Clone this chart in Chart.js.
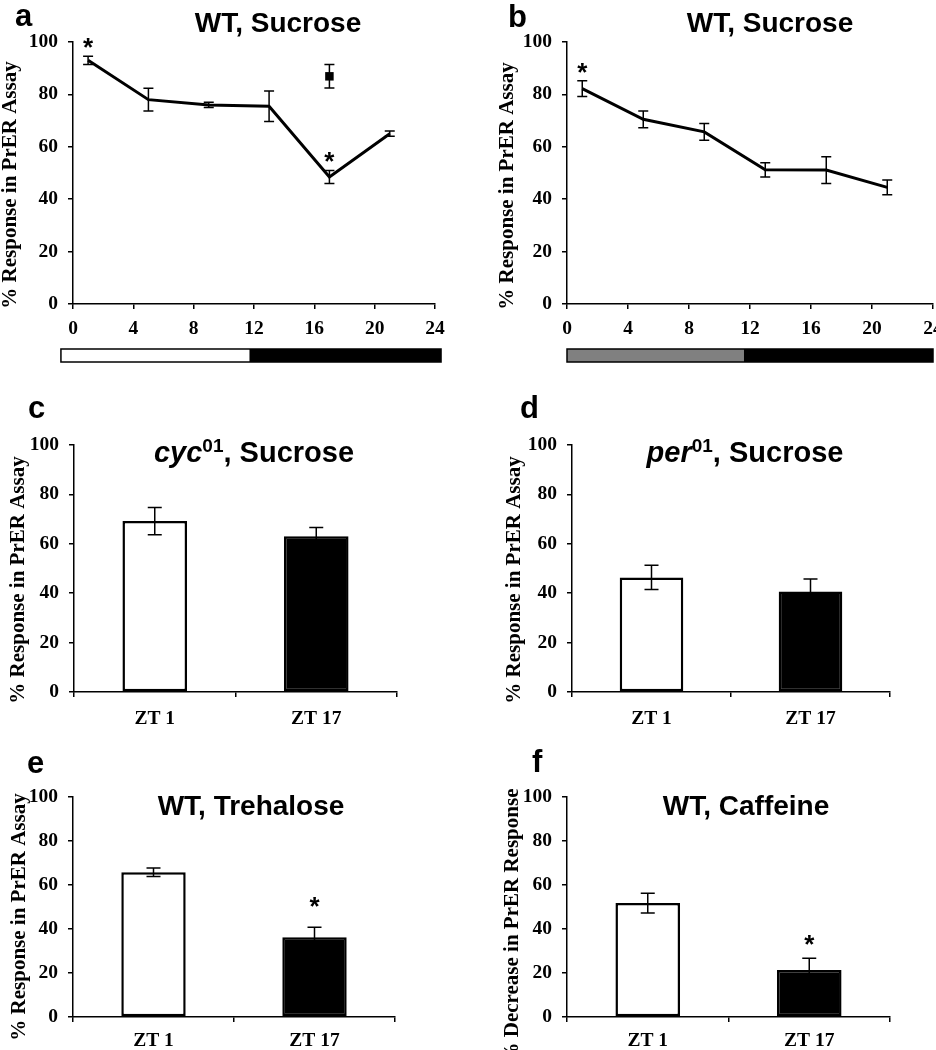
<!DOCTYPE html>
<html><head><meta charset="utf-8">
<script src="https://cdn.jsdelivr.net/npm/chart.js@4.4.1/dist/chart.umd.min.js"></script>
<style>
html,body{margin:0;padding:0;background:#fff;overflow:hidden;}
#wrap{position:relative;width:936px;height:1050px;background:#fff;}
canvas{position:absolute;display:block;}
</style></head><body><div id="wrap">
<canvas id="ca" width="468" height="370" style="left:0;top:0"></canvas>
<canvas id="cb" width="468" height="370" style="left:468px;top:0"></canvas>
<canvas id="cc" width="468" height="355" style="left:0;top:370px"></canvas>
<canvas id="cd" width="468" height="355" style="left:468px;top:370px"></canvas>
<canvas id="ce" width="468" height="325" style="left:0;top:725px"></canvas>
<canvas id="cf" width="468" height="325" style="left:468px;top:725px"></canvas>
</div>
<script>
// ---------- DATA ----------
const hoursA = [1, 5, 9, 13, 17, 21];
const wtSucroseA = [93, 78, 76, 75.5, 48.5, 65];
const wtSucroseAErr = [1.6, 4.3, 1, 5.8, 2.5, 1];
const wtSucroseASig = [true, false, false, false, true, false];
const pulseHourA = [17];
const pulseA = [86.9];
const pulseAErr = [4.5];

const hoursB = [1, 5, 9, 13, 17, 21];
const wtSucroseB = [82.2, 70.5, 65.7, 51.2, 51.1, 44.5];
const wtSucroseBErr = [3, 3.2, 3.2, 2.7, 5.1, 2.8];
const wtSucroseBSig = [true, false, false, false, false, false];

const phaseBoundsA = [-0.8, 11.7, 24.4];
const phaseColorsA = ['#ffffff', '#000000'];
const phaseBoundsB = [0, 11.6, 24];
const phaseColorsB = ['#808080', '#000000'];

const ztLabels = ['ZT 1', 'ZT 17'];
const cycSucrose = [69.2, 63.1];
const cycSucroseErr = [5.5, 3.5];
const perSucrose = [46.4, 40.7];
const perSucroseErr = [4.9, 5.0];
const wtTrehalose = [65.8, 36.2];
const wtTrehaloseErr = [1.9, 4.6];
const wtTrehaloseSig = [false, true];
const wtCaffeine = [51.8, 21.4];
const wtCaffeineErr = [4.5, 5.3];
const wtCaffeineSig = [false, true];

const barFills = ['#ffffff', '#000000'];

// ---------- STYLE ----------
const SERIF = '"Liberation Serif","Times New Roman",serif';
const SANS = '"Liberation Sans",Arial,Helvetica,sans-serif';
Chart.defaults.color = '#000';

const decor = {
  id: 'decor',
  afterDatasetsDraw(chart, args, o) {
    const ctx = chart.ctx, ys = chart.scales.y;
    ctx.save();
    chart.data.datasets.forEach((ds, di) => {
      if (!ds.errors) return;
      const meta = chart.getDatasetMeta(di);
      ds.data.forEach((d, i) => {
        const v = typeof d === 'object' ? d.y : d;
        const e = ds.errors[i];
        const x = meta.data[i].x;
        const yt = ys.getPixelForValue(v + e), yb = ys.getPixelForValue(v - e);
        ctx.strokeStyle = '#000'; ctx.lineWidth = 1.5;
        ctx.beginPath();
        ctx.moveTo(x, yt); ctx.lineTo(x, yb);
        ctx.moveTo(x - o.cap / 2, yt); ctx.lineTo(x + o.cap / 2, yt);
        ctx.moveTo(x - o.cap / 2, yb); ctx.lineTo(x + o.cap / 2, yb);
        ctx.stroke();
        if (ds.sig && ds.sig[i]) {
          ctx.fillStyle = '#000';
          ctx.font = 'bold 26px ' + SANS;
          ctx.textAlign = 'center'; ctx.textBaseline = 'alphabetic';
          ctx.fillText('*', x, yt - o.starOff + 0.57 * 26);
        }
      });
    });
    ctx.restore();
  },
  afterDraw(chart, args, o) {
    const ctx = chart.ctx;
    ctx.save();
    ctx.fillStyle = '#000';
    ctx.font = 'bold 31px ' + SANS;
    ctx.textAlign = 'left'; ctx.textBaseline = 'alphabetic';
    ctx.fillText(o.letter.t, o.letter.x - o.ox, o.letter.y - o.oy);
    let tw = 0;
    o.title.seg.forEach(s => { ctx.font = s.f; tw += ctx.measureText(s.t).width; });
    let x = o.title.cx - o.ox - tw / 2;
    o.title.seg.forEach(s => {
      ctx.font = s.f;
      ctx.fillText(s.t, x, o.title.y - o.oy + (s.dy || 0));
      x += ctx.measureText(s.t).width;
    });
    ctx.save();
    ctx.translate(o.ylabel.x - o.ox, o.ylabel.cy - o.oy);
    ctx.rotate(-Math.PI / 2);
    ctx.font = 'bold 21px ' + SERIF;
    ctx.textAlign = 'center'; ctx.textBaseline = 'alphabetic';
    ctx.fillText(o.ylabel.t, 0, 0);
    ctx.restore();
    if (o.phases) {
      const xs = chart.scales.x, p = o.phases;
      const y0 = p.y - o.oy;
      for (let i = 0; i < p.bounds.length - 1; i++) {
        const x0 = xs.getPixelForValue(p.bounds[i]), x1 = xs.getPixelForValue(p.bounds[i + 1]);
        ctx.fillStyle = p.colors[i];
        ctx.fillRect(x0, y0, x1 - x0, p.h);
      }
      const xa = xs.getPixelForValue(p.bounds[0]), xb = xs.getPixelForValue(p.bounds[p.bounds.length - 1]);
      ctx.strokeStyle = '#000'; ctx.lineWidth = 1.5;
      ctx.strokeRect(xa, y0, xb - xa, p.h);
    }
    ctx.restore();
  }
};

function yAxis(w) {
  return {
    type: 'linear', min: 0, max: 100,
    ticks: { stepSize: 20, color: '#000', padding: 10, font: { family: SERIF, weight: 'bold', size: 19.5 } },
    grid: { drawOnChartArea: false, color: '#000', tickLength: 5, lineWidth: 1.5 },
    border: { color: '#000', width: 1.5 },
    afterFit(s) { s.width = w; s.paddingTop = 0; s.paddingBottom = 0; s.paddingLeft = 0; s.paddingRight = 0; }
  };
}
function xLinear(h) {
  return {
    type: 'linear', min: 0, max: 24,
    ticks: { stepSize: 4, color: '#000', padding: 8, font: { family: SERIF, weight: 'bold', size: 19.5 } },
    grid: { drawOnChartArea: false, color: '#000', tickLength: 5, lineWidth: 1.5 },
    border: { color: '#000', width: 1.5 },
    afterFit(s) { s.height = h; s.paddingLeft = 0; s.paddingRight = 0; s.paddingTop = 0; s.paddingBottom = 0; }
  };
}
function xCat(h, pad) {
  return {
    type: 'category', offset: true,
    ticks: { color: '#000', padding: pad, font: { family: SERIF, weight: 'bold', size: 19.5 } },
    grid: { offset: true, drawOnChartArea: false, color: '#000', tickLength: 5, lineWidth: 1.5 },
    border: { color: '#000', width: 1.5 },
    afterFit(s) { s.height = h; s.paddingLeft = 0; s.paddingRight = 0; s.paddingTop = 0; s.paddingBottom = 0; }
  };
}
const T28 = 'bold 28px ' + SANS;
const wtTitle = t => [{ t: t, f: T28 }];
const supTitle = (a, b) => [{ t: a, f: 'italic bold 29px ' + SANS }, { t: '01', f: 'bold 19px ' + SANS, dy: -10 }, { t: b, f: 'bold 29px ' + SANS }];
const pts = (xs, ys) => xs.map((h, i) => ({ x: h, y: ys[i] }));

function lineChart(id, cfg) {
  new Chart(document.getElementById(id), {
    type: 'line',
    data: { datasets: cfg.datasets },
    options: {
      responsive: false, animation: false, events: [],
      layout: { padding: { left: 0, top: cfg.pad.top, right: cfg.pad.right, bottom: 0 } },
      scales: { x: xLinear(cfg.xH), y: yAxis(cfg.yW) },
      plugins: { legend: { display: false }, tooltip: { enabled: false }, decor: cfg.decor }
    },
    plugins: [decor]
  });
}
function barChart(id, cfg) {
  new Chart(document.getElementById(id), {
    type: 'bar',
    data: {
      labels: ztLabels,
      datasets: [{
        data: cfg.values, errors: cfg.errors, sig: cfg.sig,
        backgroundColor: barFills, borderColor: '#000', borderWidth: 2.5, borderSkipped: false,
        barPercentage: 0.4, categoryPercentage: 1
      }]
    },
    options: {
      responsive: false, animation: false, events: [],
      layout: { padding: { left: 0, top: cfg.pad.top, right: cfg.pad.right, bottom: 0 } },
      scales: { x: xCat(cfg.xH, cfg.xPad), y: yAxis(cfg.yW) },
      plugins: { legend: { display: false }, tooltip: { enabled: false }, decor: cfg.decor }
    },
    plugins: [decor]
  });
}

const lineDs = (xs, ys, err, sig) => ({
  data: pts(xs, ys), errors: err, sig: sig,
  borderColor: '#000', borderWidth: 3, pointRadius: 0, tension: 0, fill: false
});

lineChart('ca', {
  pad: { top: 42, right: 33 }, xH: 66, yW: 73,
  datasets: [
    lineDs(hoursA, wtSucroseA, wtSucroseAErr, wtSucroseASig),
    { data: pts(pulseHourA, pulseA), errors: pulseAErr, showLine: false, pointStyle: 'rect',
      pointRadius: 6, backgroundColor: '#000', borderColor: '#000', borderWidth: 0 }
  ],
  decor: { ox: 0, oy: 0, cap: 10, starOff: 15,
    letter: { t: 'a', x: 15, y: 26 }, title: { cx: 278, y: 32, seg: wtTitle('WT, Sucrose') },
    ylabel: { t: '% Response in PrER Assay', x: 16, cy: 185 },
    phases: { bounds: phaseBoundsA, colors: phaseColorsA, y: 349, h: 13 } }
});
lineChart('cb', {
  pad: { top: 42, right: 3 }, xH: 66, yW: 99,
  datasets: [lineDs(hoursB, wtSucroseB, wtSucroseBErr, wtSucroseBSig)],
  decor: { ox: 468, oy: 0, cap: 10, starOff: 15,
    letter: { t: 'b', x: 508, y: 27 }, title: { cx: 770, y: 32, seg: wtTitle('WT, Sucrose') },
    ylabel: { t: '% Response in PrER Assay', x: 513, cy: 186 },
    phases: { bounds: phaseBoundsB, colors: phaseColorsB, y: 349, h: 13 } }
});
barChart('cc', {
  pad: { top: 75, right: 71 }, xH: 33, yW: 74, xPad: 10,
  values: cycSucrose, errors: cycSucroseErr, sig: null,
  decor: { ox: 0, oy: 370, cap: 14, starOff: 24,
    letter: { t: 'c', x: 28, y: 418 }, title: { cx: 254, y: 462, seg: supTitle('cyc', ', Sucrose') },
    ylabel: { t: '% Response in PrER Assay', x: 24, cy: 580 } }
});
barChart('cd', {
  pad: { top: 75, right: 46 }, xH: 33, yW: 104, xPad: 10,
  values: perSucrose, errors: perSucroseErr, sig: null,
  decor: { ox: 468, oy: 370, cap: 14, starOff: 24,
    letter: { t: 'd', x: 520, y: 418 }, title: { cx: 745, y: 462, seg: supTitle('per', ', Sucrose') },
    ylabel: { t: '% Response in PrER Assay', x: 520, cy: 580 } }
});
barChart('ce', {
  pad: { top: 72, right: 73 }, xH: 33, yW: 73, xPad: 7,
  values: wtTrehalose, errors: wtTrehaloseErr, sig: wtTrehaloseSig,
  decor: { ox: 0, oy: 725, cap: 14, starOff: 27,
    letter: { t: 'e', x: 27, y: 773 }, title: { cx: 251, y: 815, seg: wtTitle('WT, Trehalose') },
    ylabel: { t: '% Response in PrER Assay', x: 25, cy: 917 } }
});
barChart('cf', {
  pad: { top: 72, right: 46 }, xH: 33, yW: 99, xPad: 7,
  values: wtCaffeine, errors: wtCaffeineErr, sig: wtCaffeineSig,
  decor: { ox: 468, oy: 725, cap: 14, starOff: 20,
    letter: { t: 'f', x: 532, y: 772 }, title: { cx: 746, y: 815, seg: wtTitle('WT, Caffeine') },
    ylabel: { t: '% Decrease in PrER Response', x: 518, cy: 926 } }
});
</script>
</body></html>
